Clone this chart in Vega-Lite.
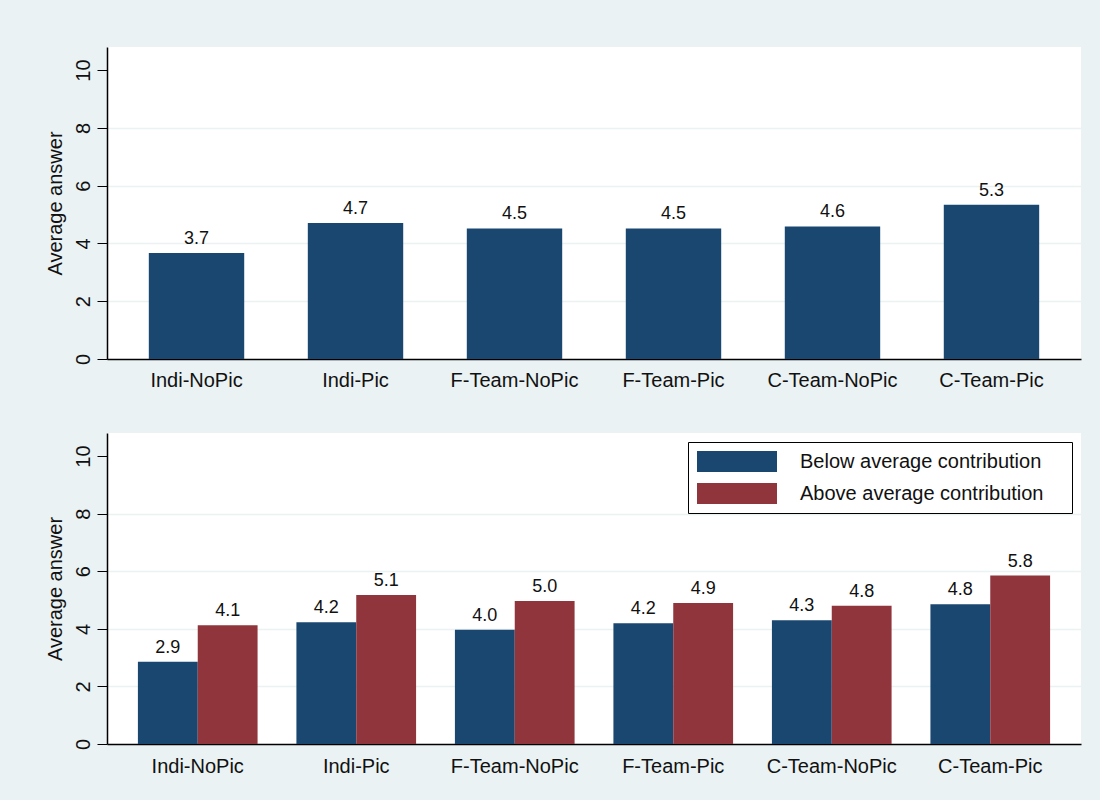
{
  "$schema": "https://vega.github.io/schema/vega-lite/v6.json",
  "autosize": {"type": "pad"},
  "padding": {"left": 44, "top": 47, "right": 19, "bottom": 24},
  "background": "#eaf2f3",
  "bounds": "flush",
  "spacing": 74,
  "config": {
    "view": {"fill": "white", "stroke": null},
    "font": "Liberation Sans",
    "axis": {
      "labelFont": "Liberation Sans",
      "titleFont": "Liberation Sans",
      "labelColor": "#111111",
      "titleColor": "#111111",
      "domainColor": "#000000",
      "tickColor": "#000000"
    }
  },
  "datasets": {
    "overall": [
      {"cond": "Indi-NoPic", "value": 3.67, "label": "3.7"},
      {"cond": "Indi-Pic", "value": 4.71, "label": "4.7"},
      {"cond": "F-Team-NoPic", "value": 4.52, "label": "4.5"},
      {"cond": "F-Team-Pic", "value": 4.52, "label": "4.5"},
      {"cond": "C-Team-NoPic", "value": 4.59, "label": "4.6"},
      {"cond": "C-Team-Pic", "value": 5.34, "label": "5.3"}
    ],
    "split": [
      {"cond": "Indi-NoPic", "group": "Below average contribution", "value": 2.86, "label": "2.9"},
      {"cond": "Indi-NoPic", "group": "Above average contribution", "value": 4.12, "label": "4.1"},
      {"cond": "Indi-Pic", "group": "Below average contribution", "value": 4.23, "label": "4.2"},
      {"cond": "Indi-Pic", "group": "Above average contribution", "value": 5.17, "label": "5.1"},
      {"cond": "F-Team-NoPic", "group": "Below average contribution", "value": 3.97, "label": "4.0"},
      {"cond": "F-Team-NoPic", "group": "Above average contribution", "value": 4.97, "label": "5.0"},
      {"cond": "F-Team-Pic", "group": "Below average contribution", "value": 4.19, "label": "4.2"},
      {"cond": "F-Team-Pic", "group": "Above average contribution", "value": 4.9, "label": "4.9"},
      {"cond": "C-Team-NoPic", "group": "Below average contribution", "value": 4.3, "label": "4.3"},
      {"cond": "C-Team-NoPic", "group": "Above average contribution", "value": 4.8, "label": "4.8"},
      {"cond": "C-Team-Pic", "group": "Below average contribution", "value": 4.85, "label": "4.8"},
      {"cond": "C-Team-Pic", "group": "Above average contribution", "value": 5.85, "label": "5.8"}
    ]
  },
  "vconcat": [
    {
      "width": 974,
      "height": 312,
      "data": {"name": "overall"},
      "encoding": {
        "x": {
          "field": "cond", "type": "nominal", "sort": null,
          "scale": {"paddingInner": 0.4, "paddingOuter": 0.263},
          "axis": {"title": null, "labelAngle": 0, "ticks": false, "labelFontSize": 20, "labelPadding": 11, "domainWidth": 1.5}
        },
        "y": {
          "field": "value", "type": "quantitative",
          "scale": {"domain": [0, 10.8], "nice": false, "zero": true},
          "axis": {
            "title": "Average answer", "titleFontSize": 20, "titleFontWeight": "normal", "titlePadding": 8,
            "values": [0, 2, 4, 6, 8, 10], "labelAngle": 270, "labelAlign": "center", "labelBaseline": "bottom",
            "labelFontSize": 20, "labelPadding": 4, "tickSize": 10, "domainWidth": 1.5,
            "grid": true, "gridColor": "#eaf2f3", "gridWidth": 1.5,
            "gridOpacity": {"condition": {"test": "datum.value == 0 || datum.value == 10", "value": 0}, "value": 1}
          }
        }
      },
      "layer": [
        {"mark": {"type": "bar", "color": "#1a476f"}},
        {
          "mark": {"type": "text", "baseline": "bottom", "dy": -5, "fontSize": 18, "color": "#111111"},
          "encoding": {"text": {"field": "label"}}
        }
      ]
    },
    {
      "width": 974,
      "height": 311,
      "data": {"name": "split"},
      "encoding": {
        "x": {
          "field": "cond", "type": "nominal", "sort": null,
          "scale": {"paddingInner": 0.245, "paddingOuter": 0.195},
          "axis": {"title": null, "labelAngle": 0, "ticks": false, "labelFontSize": 20, "labelPadding": 12, "domainWidth": 1.5}
        },
        "xOffset": {"field": "group", "type": "nominal", "sort": ["Below average contribution", "Above average contribution"], "scale": {"paddingInner": 0, "paddingOuter": 0}},
        "y": {
          "field": "value", "type": "quantitative",
          "scale": {"domain": [0, 10.8], "nice": false, "zero": true},
          "axis": {
            "title": "Average answer", "titleFontSize": 20, "titleFontWeight": "normal", "titlePadding": 8,
            "values": [0, 2, 4, 6, 8, 10], "labelAngle": 270, "labelAlign": "center", "labelBaseline": "bottom",
            "labelFontSize": 20, "labelPadding": 4, "tickSize": 10, "domainWidth": 1.5,
            "grid": true, "gridColor": "#eaf2f3", "gridWidth": 1.5,
            "gridOpacity": {"condition": {"test": "datum.value == 0 || datum.value == 10", "value": 0}, "value": 1}
          }
        }
      },
      "layer": [
        {
          "mark": {"type": "bar"},
          "encoding": {
            "color": {
              "field": "group", "type": "nominal",
              "sort": ["Below average contribution", "Above average contribution"],
              "scale": {"domain": ["Below average contribution", "Above average contribution"], "range": ["#1a476f", "#90353b"]},
              "legend": {
                "orient": "none", "legendX": 581, "legendY": 395,
                "title": "xx", "titleOrient": "right", "titleOpacity": 0, "titleFontSize": 10, "titlePadding": 8,
                "fillColor": "white", "strokeColor": "#000000", "padding": 9,
                "symbolType": "M-1,-1H6.619V1H-1Z", "symbolSize": 441, "symbolStrokeWidth": 0, "symbolOpacity": 1,
                "labelFontSize": 20, "labelFont": "Liberation Sans", "labelColor": "#111111",
                "labelOffset": 82, "rowPadding": 11, "labelLimit": 400
              }
            }
          }
        },
        {
          "mark": {"type": "text", "baseline": "bottom", "dy": -5, "fontSize": 18, "color": "#111111"},
          "encoding": {"text": {"field": "label"}}
        }
      ]
    }
  ]
}
